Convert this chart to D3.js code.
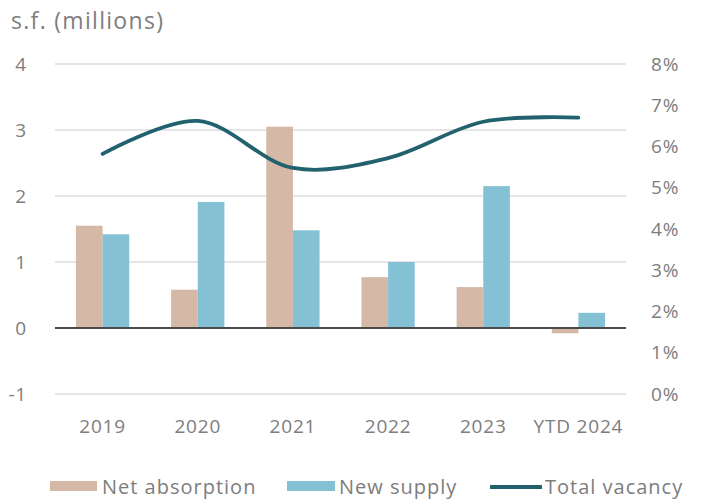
<!DOCTYPE html>
<html>
<head>
<meta charset="utf-8">
<script src="https://cdn.jsdelivr.net/npm/d3@7"></script>
<style>
  body { margin: 0; background: #fff; }
  svg { display: block; }
  text { font-family: "Open Sans", "Noto Sans", sans-serif; fill: #7d7d7d; }
</style>
</head>
<body>
<svg id="chart" width="702" height="502"></svg>
<script>
// Years on the category axis
const categories = ["2019", "2020", "2021", "2022", "2023", "YTD 2024"];
// Square feet, millions
const netAbsorption = [1.55, 0.58, 3.05, 0.77, 0.62, -0.08];
const newSupply = [1.42, 1.91, 1.48, 1.00, 2.15, 0.23];
// Total vacancy rate, percent
const totalVacancy = [5.82, 6.62, 5.48, 5.72, 6.60, 6.70];
// Axis ticks
const leftTicks = [-1, 0, 1, 2, 3, 4];
const rightTicks = [0, 1, 2, 3, 4, 5, 6, 7, 8];

const svg = d3.select("#chart");
const margin = { left: 55, right: 76, top: 64, bottom: 108 };
const W = 702, H = 502;

const x = d3.scaleBand().domain(categories).range([margin.left, W - margin.right]).paddingInner(0).paddingOuter(0);
const yL = d3.scaleLinear().domain([-1, 4]).range([H - margin.bottom, margin.top]);
const yR = d3.scaleLinear().domain([0, 8]).range([H - margin.bottom, margin.top]);

// Gridlines
svg.append("g").selectAll("line").data(leftTicks.filter(d => d !== 0)).join("line")
  .attr("x1", margin.left).attr("x2", W - margin.right)
  .attr("y1", d => yL(d)).attr("y2", d => yL(d))
  .attr("stroke", "#dcdcdc").attr("stroke-width", 1.5);

function styleTicks(g) {
  g.select(".domain").remove();
  g.selectAll("text")
    .attr("font-size", 19)
    .attr("letter-spacing", 0.8)
    .attr("fill", "#7d7d7d")
    .attr("font-family", "Open Sans, sans-serif");
}

// Left axis labels
const leftAxis = d3.axisLeft(yL).tickValues(leftTicks).tickSize(0).tickPadding(0).tickFormat(d => String(d));
svg.append("g").attr("transform", "translate(27,0)").call(leftAxis).call(styleTicks);

// Right axis labels
const rightAxis = d3.axisRight(yR).tickValues(rightTicks).tickSize(0).tickPadding(0).tickFormat(d => d + "%");
svg.append("g").attr("transform", "translate(651,0)").call(rightAxis).call(styleTicks);

// Bars
const bw = x.bandwidth() * 0.28;
const gBars = svg.append("g");
gBars.selectAll("rect.na").data(categories).join("rect")
  .attr("x", d => x(d) + x.bandwidth() / 2 - bw)
  .attr("width", bw)
  .attr("y", (d, i) => yL(Math.max(0, netAbsorption[i])))
  .attr("height", (d, i) => Math.abs(yL(netAbsorption[i]) - yL(0)))
  .attr("fill", "#d6b8a6");
gBars.selectAll("rect.ns").data(categories).join("rect")
  .attr("x", d => x(d) + x.bandwidth() / 2)
  .attr("width", bw)
  .attr("y", (d, i) => yL(Math.max(0, newSupply[i])))
  .attr("height", (d, i) => Math.abs(yL(newSupply[i]) - yL(0)))
  .attr("fill", "#85c1d5");

// Zero line
svg.append("line")
  .attr("x1", margin.left).attr("x2", W - margin.right)
  .attr("y1", yL(0)).attr("y2", yL(0))
  .attr("stroke", "#4a4a4a").attr("stroke-width", 1.8);

// Vacancy line
const line = d3.line()
  .x((d, i) => x(categories[i]) + x.bandwidth() / 2)
  .y(d => yR(d))
  .curve(d3.curveCatmullRom.alpha(0.5));
svg.append("path").datum(totalVacancy)
  .attr("d", line)
  .attr("fill", "none")
  .attr("stroke", "#22626e")
  .attr("stroke-width", 3.8)
  .attr("stroke-linecap", "round");

// Category labels
const xAxis = d3.axisBottom(x).tickSize(0).tickPadding(0);
svg.append("g").attr("transform", `translate(0,${yL(-1) + 32})`).call(xAxis).call(styleTicks)
  .selectAll("text").attr("dy", "0.35em");

// Axis title
svg.append("text").attr("x", 11).attr("y", 29).attr("font-size", 23).attr("letter-spacing", 1.3).text("s.f. (millions)");

// Legend
const lg = svg.append("g").attr("font-size", 20).attr("letter-spacing", 1);
lg.append("rect").attr("x", 50).attr("y", 481).attr("width", 47).attr("height", 10).attr("fill", "#d6b8a6");
lg.append("text").attr("x", 102).attr("y", 494).text("Net absorption");
lg.append("rect").attr("x", 287).attr("y", 481).attr("width", 48).attr("height", 10).attr("fill", "#85c1d5");
lg.append("text").attr("x", 339).attr("y", 494).text("New supply");
lg.append("line").attr("x1", 490).attr("x2", 542).attr("y1", 487).attr("y2", 487)
  .attr("stroke", "#22626e").attr("stroke-width", 4);
lg.append("text").attr("x", 545).attr("y", 494).text("Total vacancy");
</script>
</body>
</html>
